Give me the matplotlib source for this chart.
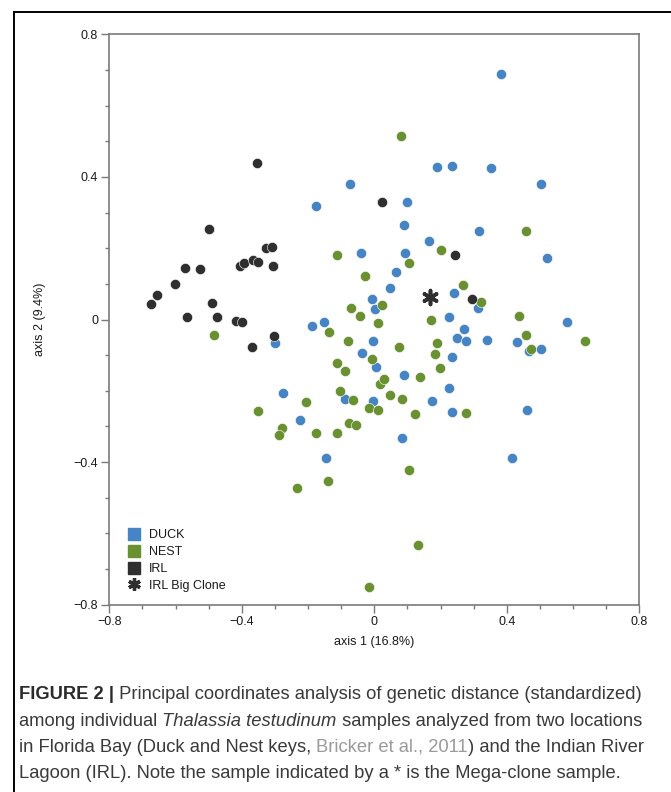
import matplotlib
matplotlib.use("Agg")
import matplotlib.pyplot as plt
from matplotlib.lines import Line2D
from matplotlib.ticker import MultipleLocator, FixedLocator

# ---------------- data ----------------
duck_x = [-0.073, -0.176, -0.040, -0.007, 0.002, -0.152, -0.187, -0.299, -0.003, -0.036,
          0.005, -0.277, -0.088, -0.005, -0.223, -0.146, 0.382, 0.188, 0.235, 0.351,
          0.502, 0.100, 0.090, 0.316, 0.165, 0.094, 0.521, 0.066, 0.047, 0.242,
          0.314, 0.225, 0.583, 0.272, 0.251, 0.277, 0.339, 0.431, 0.466, 0.503,
          0.235, 0.089, 0.224, 0.173, 0.234, 0.461, 0.083, 0.415]
duck_y = [0.381, 0.319, 0.186, 0.057, 0.029, -0.008, -0.017, -0.065, -0.061, -0.093,
          -0.134, -0.206, -0.223, -0.229, -0.281, -0.388, 0.689, 0.428, 0.431, 0.426,
          0.380, 0.329, 0.266, 0.249, 0.220, 0.187, 0.172, 0.133, 0.087, 0.073,
          0.032, 0.006, -0.008, -0.027, -0.053, -0.059, -0.058, -0.062, -0.087, -0.082,
          -0.105, -0.156, -0.193, -0.229, -0.259, -0.253, -0.332, -0.388]

nest_x = [-0.112, -0.028, -0.070, -0.042, 0.022, 0.012, 0.080, 0.457, 0.201, 0.104,
          0.268, 0.323, 0.170, 0.437, -0.483, -0.136, -0.080, -0.114, -0.089, -0.008,
          0.018, 0.029, -0.104, -0.064, -0.015, 0.011, -0.205, -0.350, -0.278, -0.289,
          -0.175, -0.113, -0.075, -0.054, -0.139, -0.234, -0.015, 0.459, 0.474, 0.637,
          0.075, 0.189, 0.182, 0.199, 0.138, 0.047, 0.083, 0.122, 0.278, 0.106, 0.133]
nest_y = [0.180, 0.123, 0.032, 0.010, 0.041, -0.009, 0.515, 0.248, 0.196, 0.158,
          0.097, 0.049, -0.001, 0.010, -0.043, -0.034, -0.061, -0.121, -0.145, -0.110,
          -0.181, -0.167, -0.200, -0.225, -0.248, -0.254, -0.231, -0.257, -0.305, -0.323,
          -0.318, -0.318, -0.290, -0.297, -0.454, -0.474, -0.749, -0.044, -0.084, -0.059,
          -0.076, -0.065, -0.096, -0.136, -0.161, -0.212, -0.223, -0.265, -0.263, -0.422, -0.633]

irl_x = [-0.355, -0.499, -0.326, -0.310, -0.405, -0.392, -0.366, -0.351, -0.306, -0.572,
         -0.527, -0.603, -0.655, -0.675, -0.490, -0.565, -0.474, -0.418, -0.398, -0.303,
         -0.368, 0.024, 0.243, 0.296]
irl_y = [0.439, 0.255, 0.200, 0.203, 0.149, 0.158, 0.168, 0.162, 0.149, 0.144,
         0.142, 0.100, 0.068, 0.043, 0.047, 0.008, 0.008, -0.003, -0.008, -0.046,
         -0.076, 0.329, 0.180, 0.058]

clone_x = [0.169]
clone_y = [0.062]

legend_labels = ["DUCK", "NEST", "IRL", "IRL Big Clone"]
x_ticks = [-0.8, -0.4, 0, 0.4, 0.8]
x_tick_labels = ["\u22120.8", "\u22120.4", "0", "0.4", "0.8"]
y_ticks = [-0.8, -0.4, 0, 0.4, 0.8]
y_tick_labels = ["\u22120.8", "\u22120.4", "0", "0.4", "0.8"]
x_label = "axis 1 (16.8%)"
y_label = "axis 2 (9.4%)"

caption_lines = [
    [("FIGURE 2 |", "bold", "normal", "#2b2b2b"),
     (" Principal coordinates analysis of genetic distance (standardized)", "normal", "normal", "#3a3a3a")],
    [("among individual ", "normal", "normal", "#3a3a3a"),
     ("Thalassia testudinum", "normal", "italic", "#3a3a3a"),
     (" samples analyzed from two locations", "normal", "normal", "#3a3a3a")],
    [("in Florida Bay (Duck and Nest keys, ", "normal", "normal", "#3a3a3a"),
     ("Bricker et al., 2011", "normal", "normal", "#9a9a9a"),
     (") and the Indian River", "normal", "normal", "#3a3a3a")],
    [("Lagoon (IRL). Note the sample indicated by a * is the Mega-clone sample.", "normal", "normal", "#3a3a3a")],
]

# ---------------- style ----------------
BLUE = "#4684c4"
GREEN = "#6a9131"
DARK = "#2f2f2f"
SPINE = "#7a7a7a"
W, H = 671, 792
DPI = 100
plt.rcParams["font.family"] = ["Liberation Sans", "DejaVu Sans"]

fig = plt.figure(figsize=(W / DPI, H / DPI), dpi=DPI)
ax = fig.add_axes([109.3 / W, 1 - 604.7 / H, 530 / W, 570.4 / H])

ms = 54
ax.scatter(duck_x, duck_y, s=ms, color=BLUE, edgecolor="white", linewidth=0.4, zorder=3)
ax.scatter(nest_x, nest_y, s=ms, color=GREEN, edgecolor="white", linewidth=0.4, zorder=3)
ax.scatter(irl_x, irl_y, s=ms, color=DARK, edgecolor="white", linewidth=0.4, zorder=3)
ax.scatter(clone_x, clone_y, s=100, marker=(6, 2, 0), color=DARK, linewidth=2.6, zorder=4)

ax.set_xlim(-0.8, 0.8)
ax.set_ylim(-0.8, 0.8)
ax.xaxis.set_major_locator(FixedLocator(x_ticks))
ax.set_xticklabels(x_tick_labels)
ax.yaxis.set_major_locator(FixedLocator(y_ticks))
ax.set_yticklabels(y_tick_labels)
ax.xaxis.set_minor_locator(MultipleLocator(0.1))
ax.yaxis.set_minor_locator(MultipleLocator(0.1))
ax.tick_params(which="major", length=6, width=1.0, color=SPINE, labelsize=9,
               labelcolor="#1a1a1a", pad=2)
ax.tick_params(which="minor", length=3, width=1.0, color=SPINE)
for sp in ax.spines.values():
    sp.set_color(SPINE)
    sp.set_linewidth(1.2)

ax.set_xlabel(x_label, fontsize=9, color="#1a1a1a", labelpad=6)
ax.set_ylabel(y_label, fontsize=9, color="#1a1a1a", labelpad=20)

handles = [
    Line2D([], [], marker="s", linestyle="none", markersize=8.5, color=BLUE),
    Line2D([], [], marker="s", linestyle="none", markersize=8.5, color=GREEN),
    Line2D([], [], marker="s", linestyle="none", markersize=8.5, color=DARK),
    Line2D([], [], marker=(6, 2, 0), linestyle="none", markersize=9, color=DARK, markeredgewidth=2.4),
]
leg = ax.legend(handles, legend_labels, loc="upper left", bbox_to_anchor=(0.036, 0.132),
                frameon=False, fontsize=9, borderpad=0, borderaxespad=0,
                handlelength=0.9, handletextpad=0.75, labelspacing=0.38)
for t in leg.get_texts():
    t.set_color("#1a1a1a")

# frame lines of the figure panel
fig.add_artist(Line2D([14 / W, 1.0], [1 - 12 / H, 1 - 12 / H], color="black", linewidth=1.4))
fig.add_artist(Line2D([14 / W, 14 / W], [1 - 12 / H, 0.0], color="black", linewidth=1.4))

# ---------------- caption ----------------
renderer = fig.canvas.get_renderer()


def draw_line(segs, x0, ybase, size):
    x = x0
    arts = []
    for txt, weight, style, col in segs:
        t = fig.text(x / W, 1 - ybase / H, txt, fontsize=size, fontweight=weight,
                     fontstyle=style, color=col, va="baseline", ha="left")
        bb = t.get_window_extent(renderer)
        x += bb.width
        arts.append(t)
    return x - x0, arts


# fit caption size to the reference line width
w, arts = draw_line(caption_lines[0], 19, 700, 12)
for a in arts:
    a.remove()
size = 12 * 624 / w

baselines = [699, 725.5, 752, 778]
for segs, yb in zip(caption_lines, baselines):
    draw_line(segs, 19, yb, size)

fig.savefig("out.png", dpi=DPI)
